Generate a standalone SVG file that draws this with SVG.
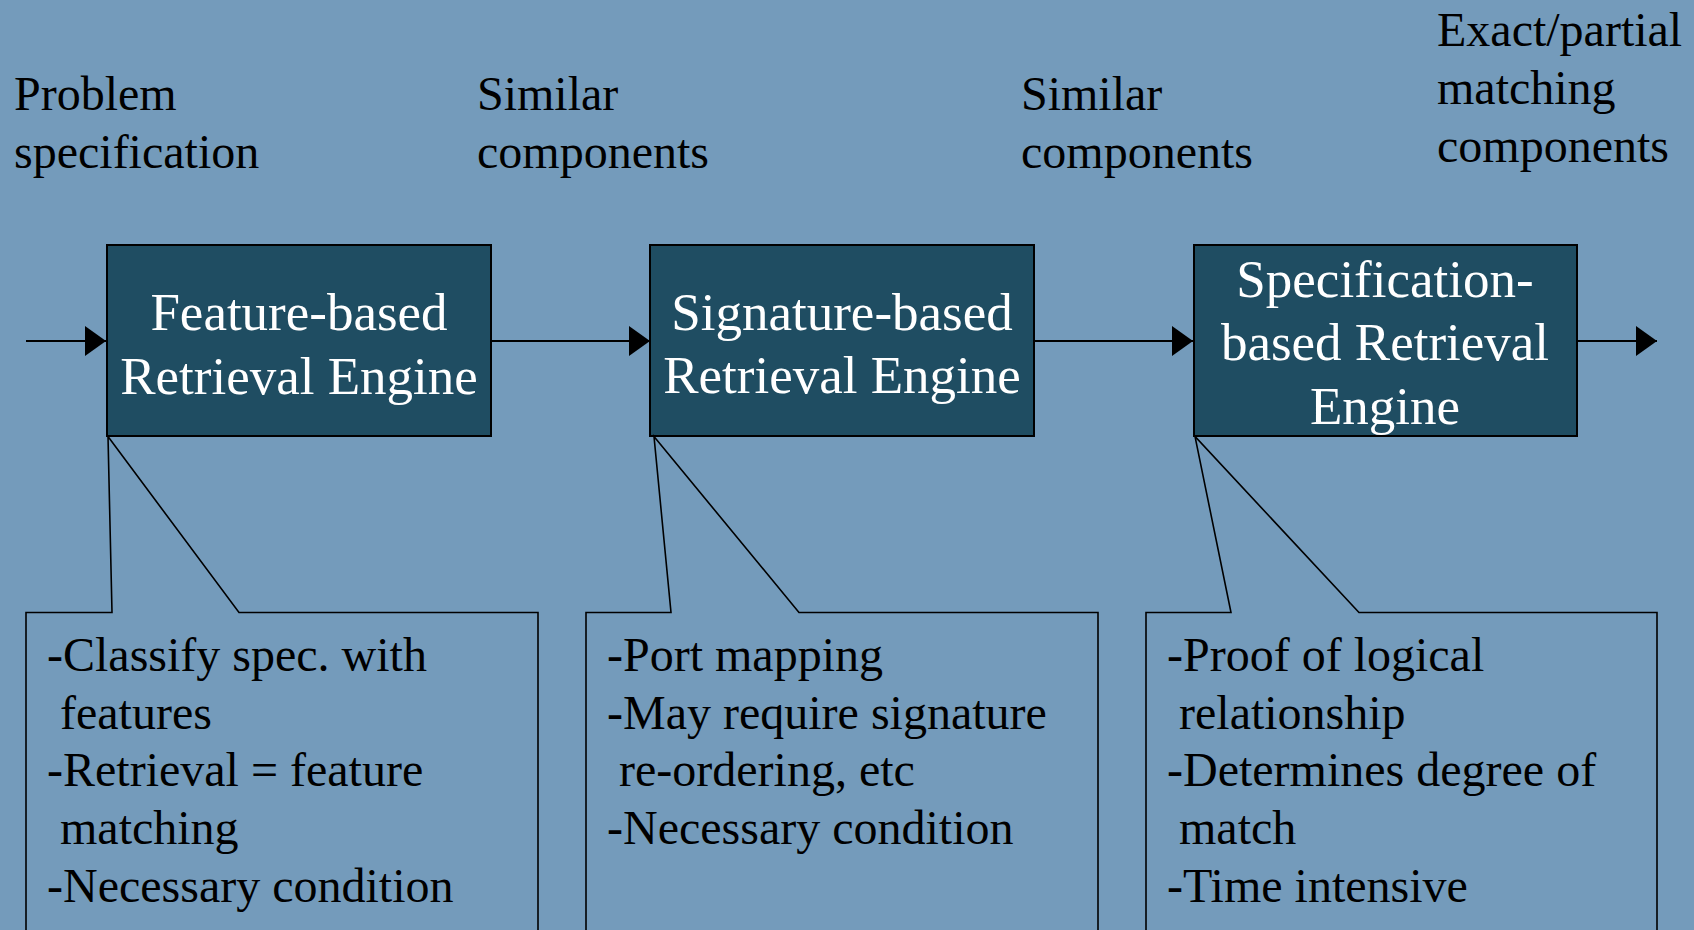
<svg xmlns="http://www.w3.org/2000/svg" width="1694" height="930" viewBox="0 0 1694 930">
  <defs>
    <style>
      .lbl { font-family: "Liberation Serif", "Times New Roman", serif; font-size: 48px; fill: #000; }
      .eng { font-family: "Liberation Serif", "Times New Roman", serif; font-size: 53px; fill: #fff; text-anchor: middle; }
      .box { fill: #1f4d62; stroke: #000; stroke-width: 2; }
      .callout { fill: none; stroke: #000; stroke-width: 1.6; }
      .conn { stroke: #000; stroke-width: 2; fill: none; }
    </style>
    <marker id="arrow" markerWidth="21" markerHeight="30" refX="21" refY="15" orient="auto" markerUnits="userSpaceOnUse">
      <path d="M0,0 L21,15 L0,30 Z" fill="#000"/>
    </marker>
  </defs>
  <rect width="1694" height="930" fill="#749bbb"/>

  <g id="labels">
    <text class="lbl" x="14" y="110">Problem</text>
    <text class="lbl" x="14" y="168">specification</text>
    <text class="lbl" x="477" y="110">Similar</text>
    <text class="lbl" x="477" y="168">components</text>
    <text class="lbl" x="1021" y="110">Similar</text>
    <text class="lbl" x="1021" y="168">components</text>
    <text class="lbl" x="1437" y="46">Exact/partial</text>
    <text class="lbl" x="1437" y="104">matching</text>
    <text class="lbl" x="1437" y="162">components</text>
  </g>

  <g id="connectors">
    <line class="conn" x1="26" y1="341" x2="106" y2="341" marker-end="url(#arrow)"/>
    <line class="conn" x1="491" y1="341" x2="650" y2="341" marker-end="url(#arrow)"/>
    <line class="conn" x1="1034" y1="341" x2="1193" y2="341" marker-end="url(#arrow)"/>
    <line class="conn" x1="1577" y1="341" x2="1657" y2="341" marker-end="url(#arrow)"/>
  </g>

  <g id="feature-engine">
    <rect class="box" x="107" y="245" width="384" height="191"/>
    <text class="eng" x="299" y="330">Feature-based</text>
    <text class="eng" x="299" y="394">Retrieval Engine</text>
  </g>

  <g id="signature-engine">
    <rect class="box" x="650" y="245" width="384" height="191"/>
    <text class="eng" x="842" y="330">Signature-based</text>
    <text class="eng" x="842" y="393">Retrieval Engine</text>
  </g>

  <g id="specification-engine">
    <rect class="box" x="1194" y="245" width="383" height="191"/>
    <text class="eng" x="1385" y="297">Specification-</text>
    <text class="eng" x="1385" y="360">based Retrieval</text>
    <text class="eng" x="1385" y="424">Engine</text>
  </g>

  <g id="feature-notes">
    <path class="callout" d="M26,935 L26,612.5 L112,612.5 L108,436.5 L239,612.5 L538,612.5 L538,935"/>
    <text class="lbl" x="47" y="671">-Classify spec. with</text>
    <text class="lbl" x="60" y="729">features</text>
    <text class="lbl" x="47" y="786">-Retrieval = feature</text>
    <text class="lbl" x="60" y="844">matching</text>
    <text class="lbl" x="47" y="902">-Necessary condition</text>
  </g>

  <g id="signature-notes">
    <path class="callout" d="M586,935 L586,612.5 L671,612.5 L654,436.5 L799,612.5 L1098,612.5 L1098,935"/>
    <text class="lbl" x="607" y="671">-Port mapping</text>
    <text class="lbl" x="607" y="729">-May require signature</text>
    <text class="lbl" x="619" y="786">re-ordering, etc</text>
    <text class="lbl" x="607" y="844">-Necessary condition</text>
  </g>

  <g id="specification-notes">
    <path class="callout" d="M1146,935 L1146,612.5 L1231,612.5 L1195,436.5 L1359,612.5 L1657,612.5 L1657,935"/>
    <text class="lbl" x="1167" y="671">-Proof of logical</text>
    <text class="lbl" x="1179" y="729">relationship</text>
    <text class="lbl" x="1167" y="786">-Determines degree of</text>
    <text class="lbl" x="1179" y="844">match</text>
    <text class="lbl" x="1167" y="902">-Time intensive</text>
  </g>
</svg>
